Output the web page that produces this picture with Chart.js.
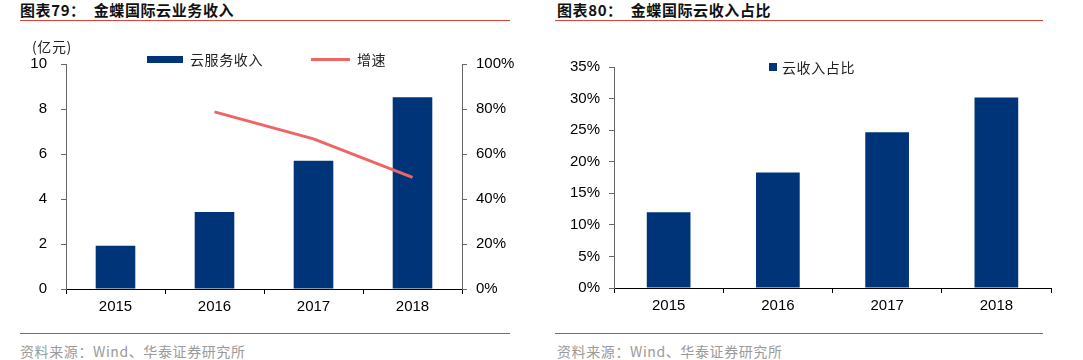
<!DOCTYPE html>
<html><head><meta charset="utf-8">
<script src="https://cdn.jsdelivr.net/npm/chart.js@4"></script>
<style>
body{margin:0;width:1083px;height:360px;background:#fff;position:relative;overflow:hidden;font-family:"Liberation Sans",Arial,sans-serif;}
.abs{position:absolute;}
.title{font-family:"Noto Sans CJK SC";font-weight:bold;font-size:15px;color:#111;top:0;line-height:20px;white-space:pre;letter-spacing:0.6px;}
.rule{height:1px;background:#d9453a;}
.src{font-family:"Noto Sans CJK SC";font-size:14px;color:#9a9a9a;top:342px;line-height:18px;white-space:pre;letter-spacing:0.6px;}
.leg{font-family:"Noto Sans CJK SC";font-size:14px;color:#222;line-height:18px;white-space:pre;letter-spacing:0.6px;}
</style></head>
<body>
<div class="abs title" style="left:20px;">图表79：  金蝶国际云业务收入</div>
<div class="abs rule" style="left:20px;top:20px;width:490px;"></div>
<div class="abs title" style="left:557px;">图表80：  金蝶国际云收入占比</div>
<div class="abs rule" style="left:555px;top:20px;width:488px;"></div>

<div class="abs" style="left:0;top:40px;width:540px;height:290px;"><canvas id="c1" width="540" height="290"></canvas></div>
<div class="abs" style="left:540px;top:40px;width:543px;height:290px;"><canvas id="c2" width="543" height="290"></canvas></div>

<div class="abs leg" style="left:32px;top:37px;">(亿元)</div>
<div class="abs" style="left:147px;top:56px;width:36px;height:7px;background:#003478;"></div>
<div class="abs leg" id="l1" style="left:190px;top:50px;"></div>
<div class="abs" style="left:311px;top:58px;width:39px;height:3px;background:#f06464;"></div>
<div class="abs leg" id="l2" style="left:357px;top:50px;"></div>
<div class="abs" style="left:769px;top:63px;width:8px;height:8px;background:#003478;"></div>
<div class="abs leg" id="l3" style="left:782px;top:58px;"></div>

<div class="abs rule" style="left:20px;top:333px;width:490px;"></div>
<div class="abs rule" style="left:555px;top:333px;width:488px;"></div>
<div class="abs src" style="left:20px;">资料来源：Wind、华泰证券研究所</div>
<div class="abs src" style="left:557px;">资料来源：Wind、华泰证券研究所</div>

<script>
const years = ['2015','2016','2017','2018'];
const cloudRevenue = [1.92, 3.42, 5.70, 8.52];      // 亿元
const cloudGrowth = [null, 78.7, 66.7, 49.6];       // %
const cloudShare = [12.0, 18.3, 24.65, 30.15];      // %
const labelRevenue = '云服务收入';
const labelGrowth = '增速';
const labelShare = '云收入占比';

document.getElementById('l1').textContent = labelRevenue;
document.getElementById('l2').textContent = labelGrowth;
document.getElementById('l3').textContent = labelShare;

const BAR = '#003478';
const tickFont = {family:'"Liberation Sans", Arial, sans-serif', size:15};

function xAxis(h){
  return {
    type:'category',
    offset:true,
    grid:{display:true, offset:true, drawOnChartArea:false, drawTicks:true, tickLength:5, color:'#000', lineWidth:1},
    border:{display:true, color:'#000', width:1},
    ticks:{color:'#000', font:tickFont, padding:4, maxRotation:0},
    afterFit(s){ s.height = h; }
  };
}
function yAxis(pos, w, max, step, fmt, pad){
  return {
    type:'linear', position:pos, min:0, max:max,
    grid:{display:true, drawOnChartArea:false, drawTicks:true, tickLength:5, color:'#666'},
    border:{display:true, color:'#666', width:1},
    ticks:{stepSize:step, color:'#000', font:tickFont, padding:pad, callback:fmt},
    afterFit(s){ s.width = w; }
  };
}

new Chart(document.getElementById('c1'), {
  data:{
    labels:years,
    datasets:[
      {type:'line', label:labelGrowth, data:cloudGrowth, yAxisID:'y1', borderColor:'#f06464', borderWidth:3, pointRadius:0, tension:0, order:0},
      {type:'bar', label:labelRevenue, data:cloudRevenue, yAxisID:'y', backgroundColor:BAR, categoryPercentage:1, barPercentage:0.4, order:1}
    ]
  },
  options:{
    responsive:false, animation:false,
    layout:{padding:{top:24,left:0,right:0,bottom:0}},
    plugins:{legend:{display:false}, tooltip:{enabled:false}},
    scales:{
      x:xAxis(41),
      y:yAxis('left', 66, 10, 2, v=>v, 14),
      y1:yAxis('right', 78, 100, 20, v=>v+'%', 9)
    }
  }
});

new Chart(document.getElementById('c2'), {
  type:'bar',
  data:{
    labels:years,
    datasets:[
      {label:labelShare, data:cloudShare, backgroundColor:BAR, categoryPercentage:1, barPercentage:0.4}
    ]
  },
  options:{
    responsive:false, animation:false,
    layout:{padding:{top:27,left:0,right:32,bottom:0}},
    plugins:{legend:{display:false}, tooltip:{enabled:false}},
    scales:{
      x:xAxis(42),
      y:yAxis('left', 74, 35, 5, v=>v+'%', 9)
    }
  }
});
</script>
</body></html>
